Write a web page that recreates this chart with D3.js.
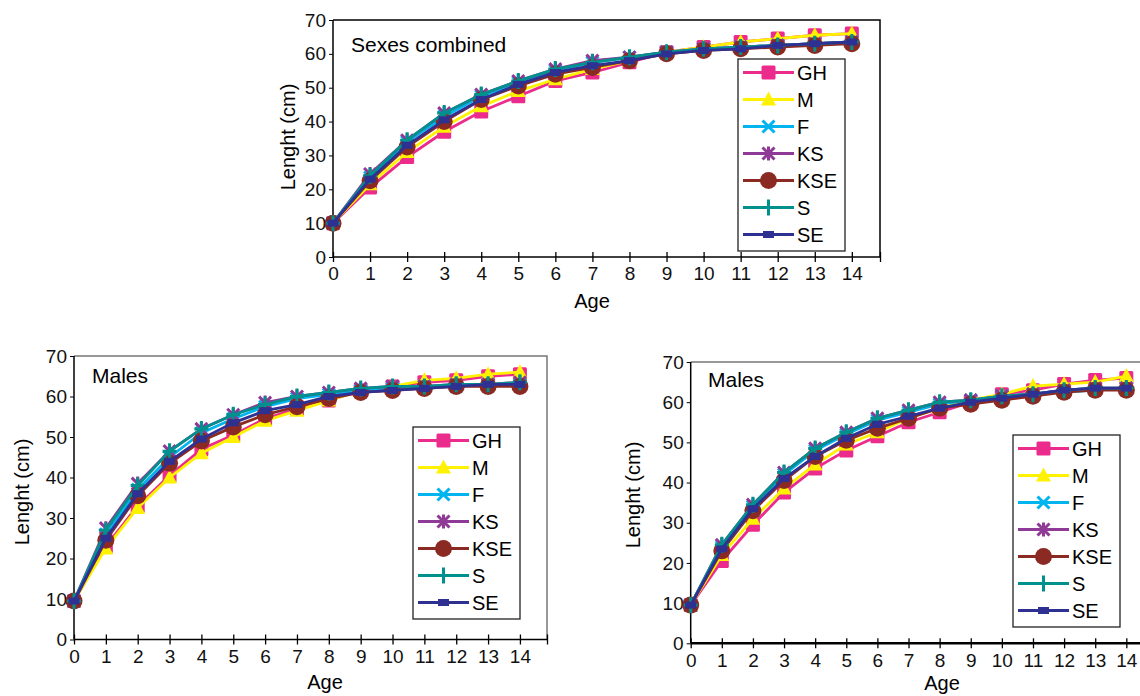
<!DOCTYPE html>
<html>
<head>
<meta charset="utf-8">
<script src="https://cdn.jsdelivr.net/npm/d3@7"></script>
<style>
  body { margin: 0; background: #fff; }
  svg { display: block; font-family: "Liberation Sans", Arial, sans-serif; }
</style>
</head>
<body>
<div id="chart"></div>
<script>
// ages on the x axis
var ages = [0, 1, 2, 3, 4, 5, 6, 7, 8, 9, 10, 11, 12, 13, 14];
var yTicks = [0, 10, 20, 30, 40, 50, 60, 70];

// series names, same order as the rows below
var seriesNames = ["GH", "M", "F", "KS", "KSE", "S", "SE"];
var seriesColors = ["#ec2c8c", "#fff200", "#00b4ef", "#8e3a96", "#8b2a22", "#00918f", "#2e3192"];
var seriesMarks = ["square", "triangle", "x", "star", "circle", "plus", "dash"];

// lengths (cm), one row per series
var combinedLengths = [
  [10, 20.5, 29.5, 37, 43, 47.5, 52, 54.5, 57.5, 60.5, 62, 63.5, 64.5, 65.5, 66],
  [10, 21.5, 31, 38.5, 44.5, 49, 52.5, 55.5, 58, 60.5, 62, 63.5, 64.5, 65.5, 66],
  [10, 23.5, 34, 41.5, 47.5, 51.5, 55, 57.5, 59, 60.5, 61.5, 62, 62.5, 63, 63.5],
  [10, 24.5, 34.5, 42.5, 48, 52, 55.5, 58, 59, 60.5, 61.5, 62, 62.5, 63, 63.5],
  [10, 22.5, 32.5, 40, 46.5, 50.5, 54, 56, 58, 60, 61, 61.5, 62, 62.5, 63],
  [10, 24, 34.5, 42.5, 48, 52, 55.5, 57.5, 59, 60.5, 61.5, 62, 62.5, 63, 63.5],
  [10, 23, 33, 40.5, 46.5, 51, 54.5, 56.5, 58, 60, 61, 61.5, 62.5, 63, 63.5]
];
var malesLengths = [
  [9.5, 23, 33, 40.5, 47, 50.5, 54.5, 57, 59, 61.5, 62.5, 63.5, 64, 65, 65.5],
  [9.5, 22.5, 32.5, 40, 46, 50, 54, 56.5, 59, 61.5, 62.5, 64, 64.5, 65.5, 66],
  [9.5, 26, 37, 45, 51, 54.5, 57.5, 59.5, 60.5, 61.5, 62, 62.5, 62.5, 63, 63],
  [9.5, 27.5, 38.5, 46.5, 52, 55.5, 58.5, 60, 61, 62, 62.5, 62.5, 63, 63, 63.5],
  [9.5, 24.5, 35.5, 43.5, 49, 52.5, 55.5, 57.5, 59.5, 61, 61.5, 62, 62.5, 62.5, 62.5],
  [9.5, 27, 38, 46.5, 52, 55.5, 58, 60, 61, 62, 62.5, 62.5, 63, 63, 63.5],
  [9.5, 25, 36, 44, 49.5, 53.5, 56.5, 58, 60, 61, 61.5, 62, 62.5, 63, 63]
];
var males2Lengths = [
  [9.5, 20.5, 29.5, 37.5, 43.5, 48, 51.5, 55, 57.5, 60, 62, 63, 64.5, 65.5, 66],
  [9.5, 22, 31, 38.5, 44.5, 49.5, 52.5, 56, 58.5, 60.5, 62, 64, 64.5, 65, 66.5],
  [9.5, 24, 34, 42, 48, 52, 55.5, 57.5, 59.5, 60.5, 61.5, 62, 62.5, 63, 63.5],
  [9.5, 24.5, 34.5, 42.5, 48.5, 52.5, 56, 58, 60, 60.5, 61.5, 62, 63, 63.5, 63.5],
  [9.5, 23, 33, 40.5, 46.5, 50.5, 53.5, 56, 58.5, 59.5, 60.5, 61.5, 62.5, 63, 63],
  [9.5, 24.5, 34.5, 42.5, 48.5, 52.5, 56, 58, 60, 60.5, 61.5, 62, 63, 63.5, 63.5],
  [9.5, 23.5, 33.5, 41, 46.5, 51, 54.5, 56.5, 58.5, 60, 61, 62, 63, 63.5, 63.5]
];

var svg = d3.select("#chart").append("svg")
    .attr("width", 1140)
    .attr("height", 696);

// where each panel sits on the page
var panels = [
  { title: "Sexes combined", data: combinedLengths, left: 333, top: 20, right: 880, bottom: 257, xMax: 14.76,
    titleX: 351, titleY: 52, yLabX: 288, yLabY: 137, ageX: 592, ageY: 308,
    legX: 738, legY: 59, frame: "#000", axisW: 1.5 },
  { title: "Males", data: malesLengths, left: 74, top: 356, right: 547, bottom: 639.5, xMax: 14.85,
    titleX: 92, titleY: 383, yLabX: 22, yLabY: 492, ageX: 325, ageY: 689,
    legX: 413, legY: 427, frame: "#777", axisW: 1.5 },
  { title: "Males", data: males2Lengths, left: 690.7, top: 362, right: 1145, bottom: 643.3, xMax: 14.6,
    titleX: 708, titleY: 387, yLabX: 633, yLabY: 495, ageX: 942, ageY: 690,
    legX: 1013, legY: 435, frame: "#777", axisW: 2.5 }
];

function drawMark(g, type, color) {
  if (type === "square") {
    g.append("rect").attr("x", -7).attr("y", -7).attr("width", 14).attr("height", 14).attr("rx", 1.5).attr("fill", color);
  } else if (type === "triangle") {
    g.append("path").attr("d", "M0,-8L7.5,6L-7.5,6Z").attr("fill", color);
  } else if (type === "x") {
    g.append("path").attr("d", "M-6,-6L6,6M-6,6L6,-6").attr("stroke", color).attr("stroke-width", 3);
  } else if (type === "star") {
    g.append("path").attr("d", "M-6,-6L6,6M-6,6L6,-6M0,-7L0,7").attr("stroke", color).attr("stroke-width", 3);
  } else if (type === "circle") {
    g.append("circle").attr("r", 8.5).attr("fill", color);
  } else if (type === "plus") {
    g.append("path").attr("d", "M-7,0L7,0M0,-8L0,8").attr("stroke", color).attr("stroke-width", 3);
  } else if (type === "dash") {
    g.append("rect").attr("x", -5.5).attr("y", -3.5).attr("width", 11).attr("height", 7).attr("fill", color);
  }
}

panels.forEach(function(p) {
  var x = d3.scaleLinear().domain([0, p.xMax]).range([p.left, p.right]);
  var y = d3.scaleLinear().domain([0, 70]).range([p.bottom, p.top]);
  var g = svg.append("g");

  // frame (top and right)
  g.append("path")
    .attr("d", "M" + p.left + "," + p.top + "H" + p.right + "V" + p.bottom)
    .attr("fill", "none").attr("stroke", p.frame).attr("stroke-width", 1.5);

  // x axis
  var xAxis = g.append("g")
    .attr("transform", "translate(0," + p.bottom + ")")
    .call(d3.axisBottom(x).tickValues(ages.concat([p.xMax])).tickSize(5).tickPadding(5)
      .tickFormat(function(d) { return d === p.xMax ? "" : d; }));
  xAxis.select(".domain").attr("d", "M" + p.left + ",0H" + p.right).attr("stroke-width", p.axisW);
  xAxis.selectAll(".tick line").attr("y1", -5).attr("y2", 5).attr("stroke-width", 1.3);
  xAxis.selectAll("text").attr("font-size", 19).attr("fill", "#111");

  // y axis
  var yAxis = g.append("g")
    .attr("transform", "translate(" + p.left + ",0)")
    .call(d3.axisLeft(y).tickValues(yTicks).tickSize(4).tickPadding(3));
  yAxis.select(".domain").attr("d", "M0," + p.top + "V" + p.bottom).attr("stroke-width", 1.5);
  yAxis.selectAll("text").attr("font-size", 19).attr("fill", "#111");

  // axis titles
  g.append("text").attr("x", p.ageX).attr("y", p.ageY).attr("text-anchor", "middle")
    .attr("font-size", 20).text("Age");
  g.append("text").attr("transform", "translate(" + p.yLabX + "," + p.yLabY + ") rotate(-90)")
    .attr("text-anchor", "middle").attr("dy", "0.35em").attr("font-size", 20).text("Lenght (cm)");
  g.append("text").attr("x", p.titleX).attr("y", p.titleY).attr("font-size", 21).text(p.title);

  // series
  var line = d3.line()
    .x(function(d, i) { return x(ages[i]); })
    .y(function(d) { return y(d); });

  p.data.forEach(function(vals, si) {
    var sg = g.append("g");
    sg.append("path").attr("d", line(vals)).attr("fill", "none")
      .attr("stroke", seriesColors[si]).attr("stroke-width", 2.8);
    vals.forEach(function(v, i) {
      var mg = sg.append("g").attr("transform", "translate(" + x(ages[i]) + "," + y(v) + ")");
      drawMark(mg, seriesMarks[si], seriesColors[si]);
    });
  });

  // legend
  var lg = g.append("g").attr("transform", "translate(" + p.legX + "," + p.legY + ")");
  lg.append("rect").attr("width", 107).attr("height", 192)
    .attr("fill", "#fff").attr("stroke", "#222").attr("stroke-width", 1.3);
  seriesNames.forEach(function(name, si) {
    var ly = 13.5 + si * 27;
    lg.append("line").attr("x1", 5).attr("x2", 56).attr("y1", ly).attr("y2", ly)
      .attr("stroke", seriesColors[si]).attr("stroke-width", 2.8);
    drawMark(lg.append("g").attr("transform", "translate(30.5," + ly + ")"), seriesMarks[si], seriesColors[si]);
    lg.append("text").attr("x", 59).attr("y", ly).attr("dy", "0.36em")
      .attr("font-size", 20).text(name);
  });
});
</script>
</body>
</html>
